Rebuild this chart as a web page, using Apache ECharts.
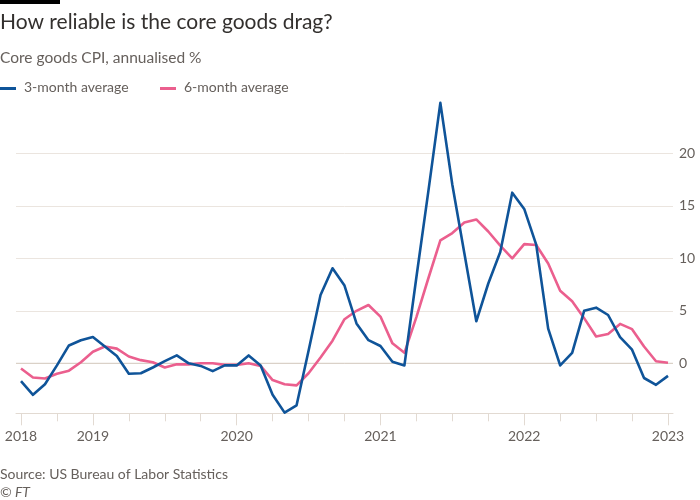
<!DOCTYPE html>
<html>
<head>
<meta charset="utf-8">
<script src="https://cdn.jsdelivr.net/npm/echarts@6/dist/echarts.min.js"></script>
<style>
html,body{margin:0;padding:0;background:#fff;}
#chart{width:700px;height:500px;}
</style>
</head>
<body>
<div id="chart"></div>
<script>
const months = [
  '2018-07','2018-08','2018-09','2018-10','2018-11','2018-12',
  '2019-01','2019-02','2019-03','2019-04','2019-05','2019-06','2019-07','2019-08','2019-09','2019-10','2019-11','2019-12',
  '2020-01','2020-02','2020-03','2020-04','2020-05','2020-06','2020-07','2020-08','2020-09','2020-10','2020-11','2020-12',
  '2021-01','2021-02','2021-03','2021-04','2021-05','2021-06','2021-07','2021-08','2021-09','2021-10','2021-11','2021-12',
  '2022-01','2022-02','2022-03','2022-04','2022-05','2022-06','2022-07','2022-08','2022-09','2022-10','2022-11','2022-12',
  '2023-01'
];
const threeMonth = [
  -1.7, -3.0, -2.0, -0.2, 1.7, 2.2,
  2.5, 1.6, 0.7, -1.0, -0.95, -0.4, 0.2, 0.75, 0.0, -0.25, -0.75, -0.2,
  -0.2, 0.75, -0.2, -3.0, -4.7, -4.0, 1.2, 6.5, 9.05, 7.4, 3.8, 2.2,
  1.65, 0.15, -0.2, 8.2, 16.4, 24.8, 17.0, 10.5, 4.0, 7.6, 10.6, 16.25,
  14.7, 11.3, 3.3, -0.2, 1.0, 5.0, 5.3, 4.6, 2.5, 1.3, -1.4, -2.05,
  -1.2
];
const sixMonth = [
  -0.5, -1.35, -1.45, -1.0, -0.7, 0.1,
  1.1, 1.6, 1.4, 0.65, 0.3, 0.1, -0.4, -0.1, -0.1, 0.0, 0.0, -0.15,
  -0.15, 0.0, -0.25, -1.6, -2.0, -2.1, -0.95, 0.55, 2.15, 4.2, 5.0, 5.55,
  4.45, 1.9, 1.0, 4.4, 8.1, 11.7, 12.4, 13.4, 13.7, 12.55, 11.2, 10.0,
  11.35, 11.27, 9.5, 6.9, 5.9, 4.3, 2.55, 2.8, 3.75, 3.25, 1.6, 0.2,
  0.05
];
const yearTickIndex = [0, 6, 18, 30, 42, 54];
const yearTickLabels = ['2018', '2019', '2020', '2021', '2022', '2023'];
const seriesNames = ['3-month average', '6-month average'];
const seriesColors = ['#0f5499', '#eb5f8e'];

const FONT = 'Lato';
const GRID_COL = '#ebe5df';
const TICK_COL = '#e2dad2';
const TXT = '#66605c';

const chart = echarts.init(document.getElementById('chart'), null, {renderer: 'canvas'});

const isMajor = (i) => yearTickIndex.indexOf(i) >= 0;

const option = {
  backgroundColor: '#ffffff',
  animation: false,
  textStyle: {fontFamily: FONT},
  grid: [
    {left: 16, right: 27, top: 100.8, bottom: 84.2},
    {left: 21, right: 32, top: 100.8, bottom: 84.2},
    {left: 21, right: 32, top: 380, bottom: 86.7},
    {left: 21, right: 32, top: 380, bottom: 86.7},
    {left: 16, right: 27, top: 380, bottom: 86.7}
  ],
  xAxis: [
    {gridIndex: 0, type: 'value', min: 0, max: 1, show: false},
    {gridIndex: 1, type: 'category', data: months, boundaryGap: false, show: false},
    {gridIndex: 2, type: 'category', data: months, boundaryGap: false,
      axisLine: {show: false},
      axisTick: {show: true, length: 8, interval: (i) => i % 3 === 0 && !isMajor(i), lineStyle: {color: TICK_COL, width: 1}},
      axisLabel: {show: false}, splitLine: {show: false}},
    {gridIndex: 3, type: 'category', data: months, boundaryGap: false,
      axisLine: {show: false},
      axisTick: {show: true, length: 12, interval: (i) => isMajor(i), lineStyle: {color: TICK_COL, width: 1}},
      axisLabel: {show: true, interval: (i) => isMajor(i), margin: 16,
        formatter: (v, i) => yearTickLabels[yearTickIndex.indexOf(i)] || '',
        color: TXT, fontSize: 14, fontFamily: FONT},
      splitLine: {show: false}},
    {gridIndex: 4, type: 'value', min: 0, max: 1,
      axisLine: {show: true, lineStyle: {color: TICK_COL, width: 1}},
      axisTick: {show: false}, axisLabel: {show: false}, splitLine: {show: false}}
  ],
  yAxis: [
    {gridIndex: 0, type: 'value', position: 'right', min: -5, max: 25, interval: 5,
      axisLine: {show: false}, axisTick: {show: false},
      axisLabel: {show: true, showMinLabel: false, showMaxLabel: false, margin: 6, color: TXT, fontSize: 14, fontFamily: FONT, align: 'left'},
      splitLine: {show: true, showMinLine: false, showMaxLine: false, lineStyle: {color: GRID_COL, width: 1}}},
    {gridIndex: 1, type: 'value', min: -5, max: 25, show: false},
    {gridIndex: 2, type: 'value', min: 0, max: 1, show: false},
    {gridIndex: 3, type: 'value', min: 0, max: 1, show: false},
    {gridIndex: 4, type: 'value', min: 0, max: 1, show: false}
  ],
  series: [
    {type: 'line', xAxisIndex: 0, yAxisIndex: 0, data: [[0, 0], [1, 0]], symbol: 'none', silent: true,
      lineStyle: {color: '#d6ccc2', width: 1}, z: 1},
    {name: seriesNames[1], type: 'line', xAxisIndex: 1, yAxisIndex: 1, data: sixMonth, symbol: 'none',
      lineStyle: {color: seriesColors[1], width: 2.6, join: 'round'}, itemStyle: {color: seriesColors[1]}, z: 3},
    {name: seriesNames[0], type: 'line', xAxisIndex: 1, yAxisIndex: 1, data: threeMonth, symbol: 'none',
      lineStyle: {color: seriesColors[0], width: 2.6, join: 'round'}, itemStyle: {color: seriesColors[0]}, z: 4}
  ],
  graphic: [
    {type: 'rect', left: 0, top: 0, shape: {width: 60, height: 4}, style: {fill: '#000000'}},
    {type: 'text', left: 0, top: 12, style: {text: 'How reliable is the core goods drag?', font: '21px ' + FONT, fill: '#33302e'}},
    {type: 'text', left: 0, top: 49.5, style: {text: 'Core goods CPI, annualised %', font: '15.5px ' + FONT, fill: TXT}},
    {type: 'rect', left: 0, top: 87, shape: {width: 16, height: 3}, style: {fill: seriesColors[0]}},
    {type: 'text', left: 24, top: 80, style: {text: seriesNames[0], font: '14px ' + FONT, fill: TXT}},
    {type: 'rect', left: 160, top: 87, shape: {width: 16, height: 3}, style: {fill: seriesColors[1]}},
    {type: 'text', left: 184, top: 80, style: {text: seriesNames[1], font: '14px ' + FONT, fill: TXT}},
    {type: 'text', left: 0, top: 467, style: {text: 'Source: US Bureau of Labor Statistics', font: '14px ' + FONT, fill: TXT}},
    {type: 'text', left: 0, top: 485.5, style: {text: '© FT', font: 'italic 14px ' + FONT, fill: TXT}}
  ]
};
chart.setOption(option);
</script>
</body>
</html>
